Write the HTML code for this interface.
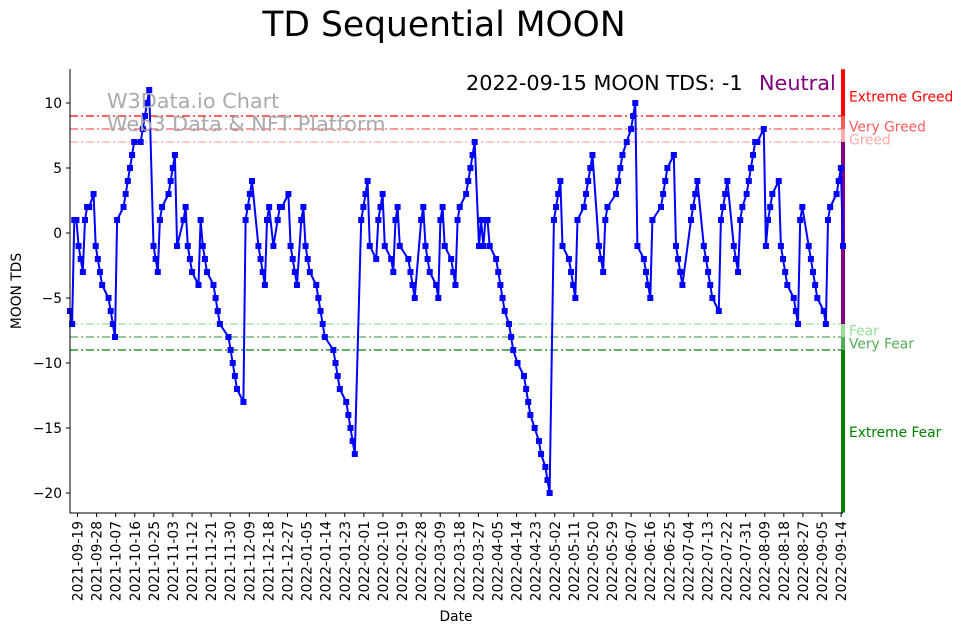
<!DOCTYPE html>
<html><head><meta charset="utf-8"><style>
body{margin:0;background:#fff;}
svg{display:block;font-family:"DejaVu Sans","Liberation Sans",sans-serif;}
</style></head><body>
<svg id="chart" width="962" height="633" viewBox="0 0 962 633" xmlns="http://www.w3.org/2000/svg">
<text x="444" y="36" font-size="34.5" text-anchor="middle" fill="#000">TD Sequential MOON</text>
<g id="grid"></g>
<g id="series"></g>
<g id="axes"></g>
<text x="107" y="108" font-size="20.8" fill="#aaa">W3Data.io Chart</text>
<text x="107" y="131" font-size="20.8" fill="#aaa">Web3 Data &amp; NFT Platform</text>
<text x="466" y="90" font-size="20.8" fill="#000">2022-09-15 MOON TDS: -1</text>
<text x="759" y="90" font-size="20.8" fill="#800080">Neutral</text>
<text transform="translate(21,291) rotate(-90)" font-size="13.8" text-anchor="middle">MOON TDS</text>
<text x="456" y="621" font-size="13.8" text-anchor="middle">Date</text>
</svg>
<script>
const dayIdx=[0,1,2,3,4,5,6,7,8,9,11,12,13,14,15,18,19,20,21,22,25,26,27,28,29,30,33,34,35,36,37,39,40,41,42,43,46,47,48,49,50,53,54,55,56,57,60,61,62,63,64,67,68,69,70,74,75,76,77,78,81,82,83,84,85,88,89,90,91,92,93,95,97,98,99,102,103,104,105,106,108,109,110,111,112,115,116,117,118,119,123,124,125,126,129,130,131,132,133,136,137,138,139,140,143,144,145,146,147,150,151,152,153,154,158,159,160,161,164,165,166,167,168,171,172,173,174,175,178,179,180,181,182,185,186,187,188,189,191,192,193,194,195,196,199,200,201,202,203,205,206,207,209,212,213,214,215,217,219,220,222,223,224,226,227,228,229,230,233,234,235,236,237,240,241,242,243,244,247,248,249,250,251,255,256,257,258,260,262,263,264,265,268,269,270,271,272,276,277,278,279,282,283,284,285,286,290,291,292,293,296,297,298,299,300,303,304,305,306,307,310,311,312,313,314,316,317,318,319,320,321,324,325,326,327,328,331,332,333,334,335,338,339,340,341,342,345,346,347,348,349,352,353,354,355,358,359,360,361];
const tdValues=[-6,-7,1,1,-1,-2,-3,1,2,2,3,-1,-2,-3,-4,-5,-6,-7,-8,1,2,3,4,5,6,7,7,8,9,10,11,-1,-2,-3,1,2,3,4,5,6,-1,1,2,-1,-2,-3,-4,1,-1,-2,-3,-4,-5,-6,-7,-8,-9,-10,-11,-12,-13,1,2,3,4,-1,-2,-3,-4,1,2,-1,1,2,2,3,-1,-2,-3,-4,1,2,-1,-2,-3,-4,-5,-6,-7,-8,-9,-10,-11,-12,-13,-14,-15,-16,-17,1,2,3,4,-1,-2,1,2,3,-1,-2,-3,1,2,-1,-2,-3,-4,-5,1,2,-1,-2,-3,-4,-5,1,2,-1,-2,-3,-4,1,2,3,4,5,6,7,-1,1,-1,1,1,-1,-2,-3,-4,-5,-6,-7,-8,-9,-10,-11,-12,-13,-14,-15,-16,-17,-18,-19,-20,1,2,3,4,-1,-2,-3,-4,-5,1,2,3,4,5,6,-1,-2,-3,1,2,3,4,5,6,7,8,9,10,-1,-2,-3,-4,-5,1,2,3,4,5,6,-1,-2,-3,-4,1,2,3,4,-1,-2,-3,-4,-5,-6,1,2,3,4,-1,-2,-3,1,2,3,4,5,6,7,7,8,-1,1,2,3,4,-1,-2,-3,-4,-5,-6,-7,1,2,-1,-2,-3,-4,-5,-6,-7,1,2,3,4,5,-1];
const xTickLabels=["2021-09-19","2021-09-28","2021-10-07","2021-10-16","2021-10-25","2021-11-03","2021-11-12","2021-11-21","2021-11-30","2021-12-09","2021-12-18","2021-12-27","2022-01-05","2022-01-14","2022-01-23","2022-02-01","2022-02-10","2022-02-19","2022-02-28","2022-03-09","2022-03-18","2022-03-27","2022-04-05","2022-04-14","2022-04-23","2022-05-02","2022-05-11","2022-05-20","2022-05-29","2022-06-07","2022-06-16","2022-06-25","2022-07-04","2022-07-13","2022-07-22","2022-07-31","2022-08-09","2022-08-18","2022-08-27","2022-09-05","2022-09-14"];
const yTicks=[10,5,0,-5,-10,-15,-20];
const levelValues=[9,8,7,-7,-8,-9];
const levelNames=["Extreme Greed","Very Greed","Greed","Fear","Very Fear","Extreme Fear"];
const levelColors=["#ff0000","#ff5a5a","#ffaaaa","#99dd99","#55aa55","#008000"];
const levelLabelValues=[10.5,8.2,7.2,-7.5,-8.5,-15.3];

const NS="http://www.w3.org/2000/svg";
const L=70,R=843,T=69,B=513;
const X=d=>L+d*(R-L)/361;
const Y=v=>233-13*v;
const tickX=k=>77.5+k*19.09;
function mk(tag,attrs,parent){const e=document.createElementNS(NS,tag);for(const k in attrs)e.setAttribute(k,attrs[k]);parent.appendChild(e);return e;}
const grid=document.getElementById('grid'),series=document.getElementById('series'),axes=document.getElementById('axes');

levelValues.forEach((v,i)=>{
  const ln=mk('line',{x1:L,x2:R,y1:Y(v),y2:Y(v),stroke:levelColors[i],'stroke-width':1.3,'stroke-dasharray':'8,3,2,3'},grid);
  
  
  const t=mk('text',{x:849,y:Y(levelLabelValues[i])+5,'font-size':13.8,fill:levelColors[i]},grid);
  t.textContent=levelNames[i];
  
  
});
const barTop=[12.6,9,8,7,-7,-8,-9];
const barBot=[9,8,7,-7,-8,-9,-21.5];
const barCol=["#ff0000","#ff5a5a","#ffaaaa","#800080","#99dd99","#55aa55","#008000"];
barTop.forEach((t,i)=>{
  const r=mk('rect',{x:841,y:Y(t),width:4,height:Y(barBot[i])-Y(t),fill:barCol[i]},grid);
  
  
});

let pts=dayIdx.map((d,i)=>X(d).toFixed(1)+','+Y(tdValues[i]).toFixed(1)).join(' ');
const pl=mk('polyline',{points:pts,fill:'none',stroke:'#0000ff','stroke-width':2,'stroke-linejoin':'round'},series);


dayIdx.forEach((d,i)=>{
  const r=mk('rect',{x:X(d)-3,y:Y(tdValues[i])-3,width:6,height:6,fill:'#0000ff'},series);
  
  
});

const sp=mk('path',{d:`M${L},${T}V${B}H${R}`,fill:'none',stroke:'#000','stroke-width':1},axes);


yTicks.forEach(v=>{
  mk('line',{x1:L-4,x2:L,y1:Y(v),y2:Y(v),stroke:'#000'},axes);
  const t=mk('text',{x:L-8,y:Y(v)+5,'font-size':13.8,'text-anchor':'end'},axes);
  t.textContent=v<0?'\u2212'+Math.abs(v):String(v);
  
  
});
xTickLabels.forEach((lab,k)=>{
  const x=tickX(k);
  mk('line',{x1:x,x2:x,y1:B,y2:B+4,stroke:'#000'},axes);
  const t=mk('text',{transform:`translate(${x+5},${B+8}) rotate(-90)`,'font-size':13.8,'text-anchor':'end'},axes);
  t.textContent=lab;
  
  
});
</script>
</body></html>
